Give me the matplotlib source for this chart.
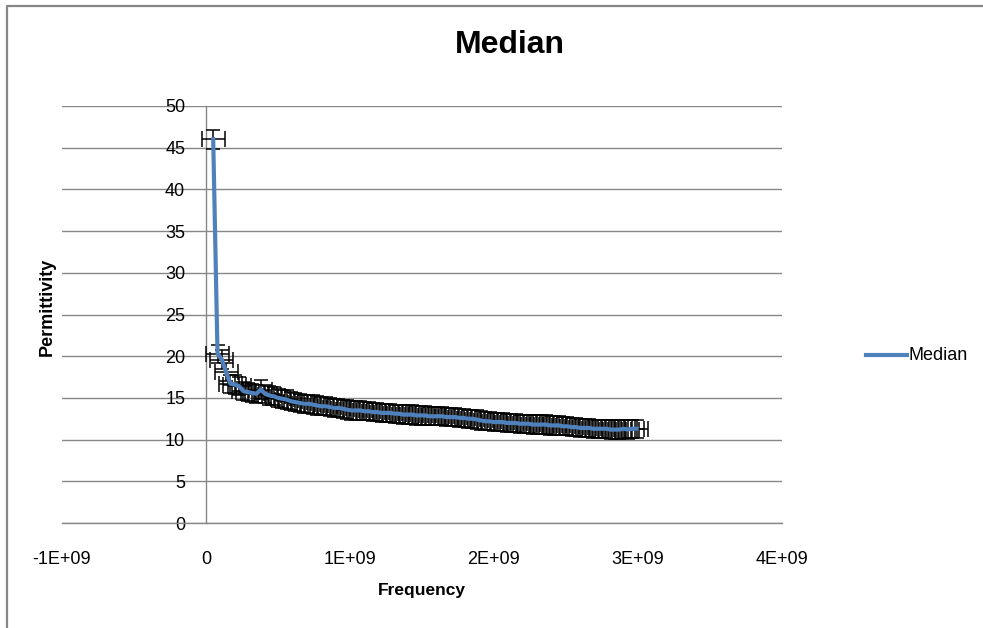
"""
Median permittivity vs. frequency, with fixed x/y error bars (Excel-style scatter).
"""
import matplotlib
matplotlib.use("Agg")
import matplotlib.pyplot as plt
from matplotlib.lines import Line2D
from matplotlib.ticker import FuncFormatter, MultipleLocator

plt.rcParams['font.family'] = ['Liberation Sans', 'DejaVu Sans']

# Sweep points (GHz) and median permittivity at each one
FREQ_GHZ = [
    0.05, 0.08, 0.11, 0.14, 0.17, 0.20, 0.23, 0.26, 0.29, 0.32,
    0.35, 0.38, 0.41, 0.44, 0.47, 0.50, 0.53, 0.56, 0.59, 0.62,
    0.65, 0.68, 0.71, 0.74, 0.77, 0.80, 0.83, 0.86, 0.89, 0.92,
    0.95, 0.98, 1.01, 1.04, 1.07, 1.10, 1.13, 1.16, 1.19, 1.22,
    1.25, 1.28, 1.31, 1.34, 1.37, 1.40, 1.43, 1.46, 1.49, 1.52,
    1.55, 1.58, 1.61, 1.64, 1.67, 1.70, 1.73, 1.76, 1.79, 1.82,
    1.85, 1.88, 1.91, 1.94, 1.97, 2.00, 2.03, 2.06, 2.09, 2.12,
    2.15, 2.18, 2.21, 2.24, 2.27, 2.30, 2.33, 2.36, 2.39, 2.42,
    2.45, 2.48, 2.51, 2.54, 2.57, 2.60, 2.63, 2.66, 2.69, 2.72,
    2.75, 2.78, 2.81, 2.84, 2.87, 2.90, 2.93, 2.96, 2.99,
]
PERMITTIVITY = [
    46.0, 20.3, 19.6, 18.1, 16.7, 16.6, 16.4, 15.8, 15.7, 15.6,
    15.5, 16.0, 15.5, 15.3, 15.2, 15.0, 14.9, 14.8, 14.6, 14.5,
    14.4, 14.3, 14.3, 14.2, 14.1, 14.0, 14.0, 13.9, 13.8, 13.8,
    13.7, 13.6, 13.5, 13.5, 13.5, 13.4, 13.4, 13.3, 13.3, 13.2,
    13.2, 13.2, 13.1, 13.1, 13.0, 13.0, 13.0, 12.9, 12.9, 12.9,
    12.8, 12.8, 12.8, 12.8, 12.7, 12.7, 12.7, 12.6, 12.6, 12.5,
    12.5, 12.4, 12.3, 12.2, 12.2, 12.1, 12.1, 12.1, 12.0, 12.0,
    12.0, 11.9, 11.9, 11.9, 11.8, 11.8, 11.8, 11.8, 11.7, 11.7,
    11.7, 11.6, 11.6, 11.5, 11.5, 11.4, 11.4, 11.4, 11.3, 11.3,
    11.3, 11.3, 11.2, 11.2, 11.2, 11.3, 11.2, 11.3, 11.3,
]
FREQ_ERR_GHZ = 0.08
PERM_ERR = 1.1

X_TICKS = [-1e9, 0, 1e9, 2e9, 3e9, 4e9]

COL_LINE = '#4F81BD'
COL_GRID = '#878787'


def sci_label(v, _pos):
    if v == 0:
        return "0"
    return f"{v:.0E}"


def render(out="out.png"):
    freq = [f * 1e9 for f in FREQ_GHZ]

    fig = plt.figure(figsize=(9.83, 6.28), dpi=100)
    ax = fig.add_axes([62 / 983, (628 - 523) / 628, 720 / 983, 417 / 628])

    # error bars first so the series line sits on top
    ax.errorbar(freq, PERMITTIVITY, xerr=FREQ_ERR_GHZ * 1e9, fmt='none',
                ecolor='black', elinewidth=1.1, capsize=6, capthick=1.1, zorder=3)
    ax.errorbar(freq, PERMITTIVITY, yerr=PERM_ERR, fmt='none',
                ecolor='black', elinewidth=1.1, capsize=5, capthick=1.1, zorder=3)
    ax.plot(freq, PERMITTIVITY, color=COL_LINE, linewidth=3.0,
            solid_joinstyle='round', zorder=4)

    ax.set_xlim(-1e9, 4e9)
    ax.set_ylim(0, 50)
    ax.set_xticks(X_TICKS)
    ax.xaxis.set_major_formatter(FuncFormatter(sci_label))
    ax.yaxis.set_major_locator(MultipleLocator(5))

    ax.grid(axis='y', color=COL_GRID, linewidth=1.0)
    ax.set_axisbelow(True)
    for side in ('top', 'right'):
        ax.spines[side].set_visible(False)
    ax.spines['left'].set_position(('data', 0))
    ax.spines['left'].set_color(COL_GRID)
    ax.spines['bottom'].set_color(COL_GRID)
    ax.spines['left'].set_linewidth(1.0)
    ax.spines['bottom'].set_linewidth(1.0)
    ax.tick_params(axis='both', length=0, labelsize=13, colors='black')
    ax.tick_params(axis='y', pad=15)
    ax.tick_params(axis='x', pad=20)

    fig.text(47 / 983, 1 - 307 / 628, "Permittivity", rotation=90, fontsize=13,
             fontweight='bold', ha='center', va='center')
    fig.text(422 / 983, 1 - 590 / 628, "Frequency", fontsize=12.5,
             fontweight='bold', ha='center', va='center')
    fig.text(510 / 983, 1 - 45 / 628, "Median", fontsize=23,
             fontweight='bold', ha='center', va='center')

    # legend entry outside the plot area
    fig.add_artist(Line2D([866 / 983, 907 / 983], [1 - 355 / 628, 1 - 355 / 628],
                          color=COL_LINE, linewidth=3.0, transform=fig.transFigure))
    fig.text(909 / 983, 1 - 355 / 628, "Median", fontsize=13, ha='left', va='center')

    # chart border (only top and left edges fall inside the image)
    fig.add_artist(Line2D([7 / 983, 7 / 983, 1.0], [0.0, 1 - 6 / 628, 1 - 6 / 628],
                          color='#868686', linewidth=1.6, transform=fig.transFigure))

    fig.savefig(out, dpi=100)
    plt.close(fig)


if __name__ == "__main__":
    render()
